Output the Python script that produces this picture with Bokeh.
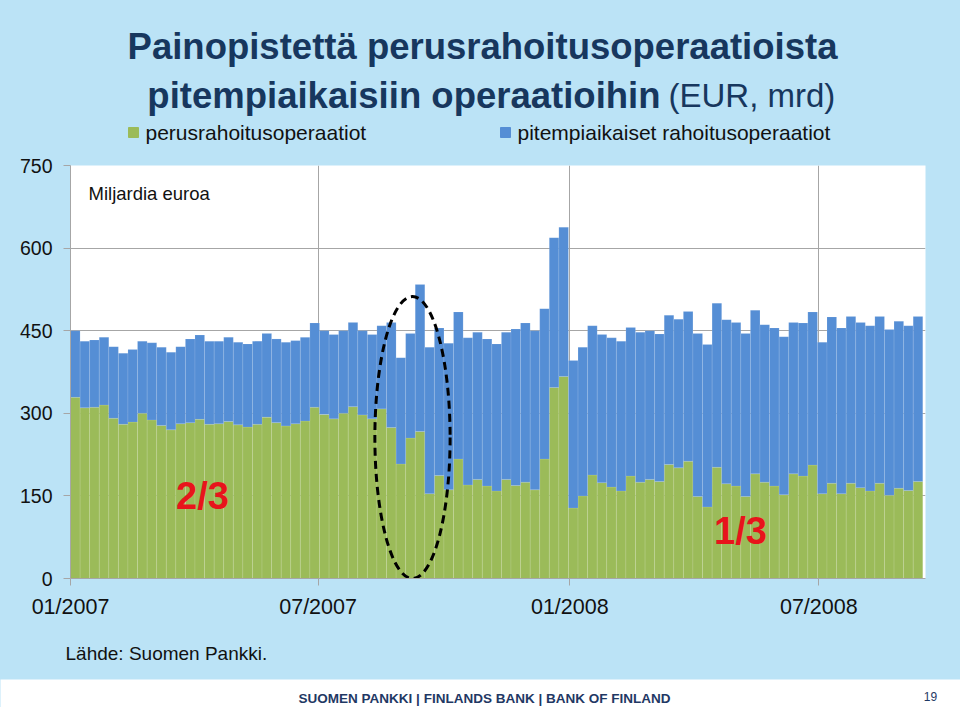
import pandas as pd
from bokeh.plotting import figure
from bokeh.models import Range1d, FixedTicker, Label, ColumnDataSource
from bokeh.embed import file_html
from bokeh.resources import INLINE

# ---------------- data (EUR bn, weekly) ----------------
first_week = "2007-01-01"

perusrahoitus = [
    329, 310, 311, 315, 291, 280, 284, 300, 288, 278,
    270, 281, 283, 289, 280, 281, 285, 279, 275, 280,
    293, 283, 277, 281, 286, 311, 298, 290, 300, 312,
    297, 290, 308, 274, 208, 255, 267, 154, 187, 161,
    217, 170, 180, 168, 159, 180, 169, 175, 161, 217,
    347, 367, 128, 150, 188, 174, 166, 159, 186, 175,
    180, 176, 207, 201, 213, 149, 130, 202, 172, 168,
    149, 190, 175, 168, 152, 190, 186, 206, 154, 173,
    154, 173, 165, 159, 173, 151, 164, 160, 176,
]

pitempiaikaiset = [
    121, 121, 122, 123, 130, 129, 132, 131, 140, 142,
    141, 140, 152, 153, 151, 150, 153, 150, 151, 151,
    152, 152, 152, 151, 152, 153, 152, 153, 150, 153,
    153, 153, 151, 191, 193, 190, 267, 266, 268, 266,
    267, 267, 267, 267, 267, 267, 284, 289, 289, 273,
    272, 271, 268, 270, 271, 269, 271, 272, 270, 272,
    270, 268, 271, 270, 272, 296, 295, 298, 298, 297,
    296, 297, 286, 287, 287, 275, 278, 278, 275, 302,
    301, 303, 300, 300, 303, 301, 303, 299, 300,
]

series_names = ["perusrahoitusoperaatiot", "pitempiaikaiset rahoitusoperaatiot"]
tick_dates = ["2007-01-01", "2007-07-01", "2008-01-01", "2008-07-01"]
tick_labels = ["01/2007", "07/2007", "01/2008", "07/2008"]
y_ticks = [0, 150, 300, 450, 600, 750]

# ---------------- styling ----------------
GREEN = "#9bbb59"
BLUE = "#558ed5"
BG = "#bbe3f6"
NAVY = "#17375e"
GRID = "#a6a6a6"
SANS = "Liberation Sans"
TXT = "#111111"

start = pd.Timestamp(first_week)
weeks = pd.date_range(start, periods=len(perusrahoitus), freq="7D")
xs = [(w - start).days + 3.5 for w in weeks]
tick_days = [(pd.Timestamp(d) - start).days for d in tick_dates]

src = ColumnDataSource(dict(x=xs, perus=perusrahoitus, pitkat=pitempiaikaiset))

W = 960
HDR_H, MAIN_H, LOW_H, FTR_H = 150, 480, 49, 28


def blank(h, bg):
    f = figure(width=W, height=h, output_backend="svg", toolbar_location=None,
               x_range=Range1d(0, W), y_range=Range1d(0, h),
               x_axis_type=None, y_axis_type=None,
               min_border_left=0, min_border_right=0,
               min_border_top=0, min_border_bottom=0)
    f.outline_line_color = None
    f.background_fill_color = bg
    f.border_fill_color = bg
    return f


# ---------------- header: title + legend ----------------
hdr = blank(HDR_H, BG)
hdr.add_layout(Label(x=482, y=HDR_H - 46, text="Painopistettä perusrahoitusoperaatioista",
                     text_align="center", text_baseline="middle",
                     text_font=SANS, text_font_style="bold",
                     text_font_size="36.5px", text_color=NAVY))
hdr.add_layout(Label(x=660, y=HDR_H - 95, text="pitempiaikaisiin operaatioihin",
                     text_align="right", text_baseline="middle",
                     text_font=SANS, text_font_style="bold",
                     text_font_size="36.5px", text_color=NAVY))
hdr.add_layout(Label(x=668, y=HDR_H - 95, text="(EUR, mrd)",
                     text_align="left", text_baseline="middle",
                     text_font=SANS, text_font_size="33px", text_color=NAVY))
# legend: colour swatches + labels
leg_x = [133, 505]
leg_y = [HDR_H - 132, HDR_H - 132]
hdr.rect(x=leg_x, y=leg_y, width=10, height=10, color=[GREEN, BLUE])
for lab, lx in zip(series_names, leg_x):
    hdr.add_layout(Label(x=lx + 12, y=HDR_H - 132, text=lab,
                         text_align="left", text_baseline="middle",
                         text_font=SANS, text_font_size="21px", text_color=TXT))

# ---------------- main chart ----------------
L, R = 70, 925
TOP_B, FRAME_H = 15, 413
X0, X1 = 0, 625

p = figure(width=W, height=MAIN_H, output_backend="svg", toolbar_location=None,
           x_range=Range1d(X0, X1), y_range=Range1d(0, 750),
           min_border_left=L, min_border_right=W - R,
           min_border_top=TOP_B, min_border_bottom=MAIN_H - TOP_B - FRAME_H)
p.border_fill_color = BG
p.background_fill_color = "white"
p.outline_line_color = None


def px_x(px):
    return X0 + (px - L) / (R - L) * (X1 - X0)


def px_y(py):  # page y -> data y (frame top at page y 165)
    return (165 + FRAME_H - py) / FRAME_H * 750


rs = p.vbar_stack(["perus", "pitkat"], x="x", width=7, source=src,
                  color=[GREEN, BLUE], line_color="white", line_alpha=0.18,
                  line_width=0.6)

p.yaxis.ticker = FixedTicker(ticks=y_ticks)
p.xaxis.ticker = FixedTicker(ticks=tick_days)
p.xaxis.major_label_overrides = {d: lab for d, lab in zip(tick_days, tick_labels)}
for ax in (p.xaxis, p.yaxis):
    ax.axis_line_color = GRID
    ax.major_tick_line_color = GRID
    ax.major_tick_in = 0
    ax.major_tick_out = 7
    ax.minor_tick_line_color = None
    ax.major_label_text_font = SANS
    ax.major_label_text_color = TXT
p.yaxis.major_label_text_font_size = "19.5px"
p.xaxis.major_label_text_font_size = "21.5px"
p.yaxis.major_label_standoff = 11
p.xaxis.major_label_standoff = 9

p.xgrid.ticker = FixedTicker(ticks=tick_days)
p.ygrid.ticker = FixedTicker(ticks=y_ticks)
p.grid.grid_line_color = GRID
p.grid.grid_line_width = 1

# highlighted period (dashed ellipse)
ell_center = (weeks[35] - start).days + 5
p.ellipse(x=[ell_center], y=[256], width=[55], height=[512],
          fill_color=None, line_color="black", line_width=3, line_dash="8 5")

p.add_layout(Label(x=px_x(88), y=px_y(193), text="Miljardia euroa",
                   text_align="left", text_baseline="middle",
                   text_font=SANS, text_font_size="18.5px", text_color=TXT))
p.add_layout(Label(x=px_x(202), y=px_y(495), text="2/3",
                   text_align="center", text_baseline="middle",
                   text_font=SANS, text_font_style="bold",
                   text_font_size="38px", text_color="#e8141b"))
p.add_layout(Label(x=px_x(740), y=px_y(530), text="1/3",
                   text_align="center", text_baseline="middle",
                   text_font=SANS, text_font_style="bold",
                   text_font_size="38px", text_color="#e8141b"))

# ---------------- source line ----------------
low = blank(LOW_H, BG)
low.add_layout(Label(x=65, y=LOW_H - 23, text="Lähde: Suomen Pankki.",
                     text_align="left", text_baseline="middle",
                     text_font=SANS, text_font_size="19px", text_color=TXT))

# ---------------- footer strip ----------------
ftr = blank(FTR_H, "white")
ftr.add_layout(Label(x=484, y=FTR_H - 19, text="SUOMEN PANKKI | FINLANDS BANK | BANK OF FINLAND",
                     text_align="center", text_baseline="middle",
                     text_font=SANS, text_font_style="bold",
                     text_font_size="13.5px", text_color="#1f3864"))
ftr.add_layout(Label(x=930, y=FTR_H - 17, text="19", text_align="center",
                     text_baseline="middle", text_font=SANS,
                     text_font_size="12px", text_color="#1f3864"))

PAGE_CSS = ("{% block postamble %}<style>html, body { background-color: "
            + BG + "; }</style>{% endblock %}")

open("out.html", "w").write(file_html([hdr, p, low, ftr], INLINE, template=PAGE_CSS))
